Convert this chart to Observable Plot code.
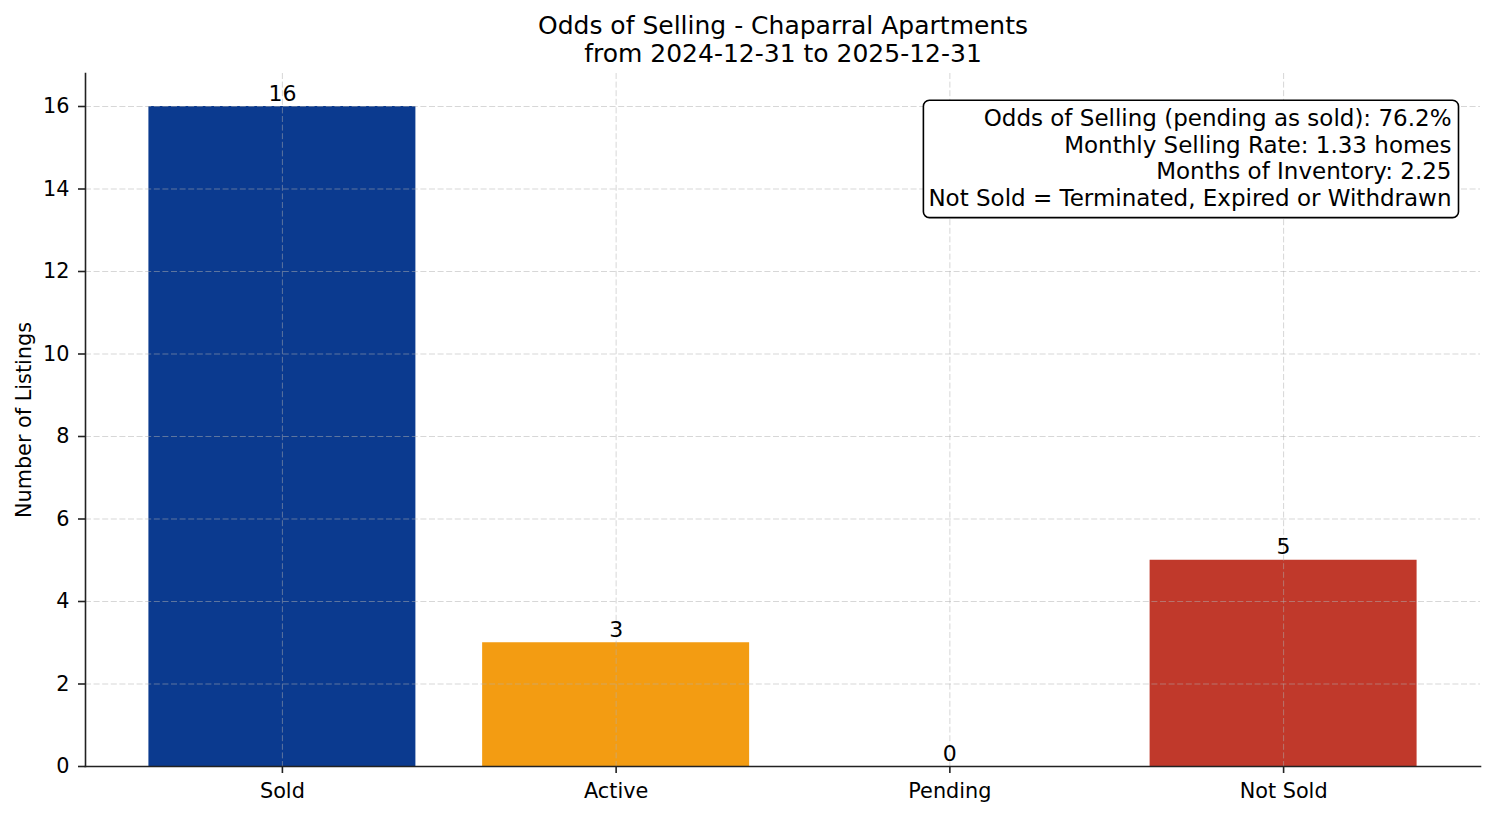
<!DOCTYPE html>
<html>
<head>
<meta charset="utf-8">
<script src="https://cdn.jsdelivr.net/npm/d3@7"></script>
<script src="https://cdn.jsdelivr.net/npm/@observablehq/plot@0.6"></script>
<style>
  html, body { margin: 0; padding: 0; background: #fff; }
  #chart { width: 1494px; height: 816px; position: relative; }
</style>
</head>
<body>
<div id="chart"></div>
<script>
const categories = ["Sold", "Active", "Pending", "Not Sold"];
const counts = [16, 3, 0, 5];
const barColors = ["#0b3a8f", "#f39c12", "#8e44ad", "#c0392b"];
const yTicks = [0, 2, 4, 6, 8, 10, 12, 14, 16];
const titleLines = ["Odds of Selling - Chaparral Apartments", "from 2024-12-31 to 2025-12-31"];
const yLabel = "Number of Listings";
const noteLines = [
  "Odds of Selling (pending as sold): 76.2%",
  "Monthly Selling Rate: 1.33 homes",
  "Months of Inventory: 2.25",
  "Not Sold = Terminated, Expired or Withdrawn"
];

const data = categories.map((c, i) => ({category: c, count: counts[i], color: barColors[i]}));
const font = "DejaVu Sans";
const gridStyle = {stroke: "#b0b0b0", strokeOpacity: 0.5, strokeWidth: 1, strokeDasharray: "6,2.6"};

const chart = Plot.plot({
  width: 1494,
  height: 816,
  marginLeft: 85,
  marginRight: 14,
  marginTop: 73,
  marginBottom: 50,
  style: {fontFamily: font, background: "#fff", color: "#000"},
  x: {type: "band", domain: categories, paddingInner: 0.2, paddingOuter: 0.19, round: false, label: null},
  y: {domain: [0, 16.8], label: null},
  color: {type: "identity"},
  marks: [
    Plot.barY(data, {x: "category", y: "count", fill: "color"}),
    Plot.ruleY(yTicks, {...gridStyle}),
    Plot.ruleX(categories, {...gridStyle}),
    Plot.axisY({ticks: yTicks, tickSize: 7, tickPadding: 9, fontSize: 20.8, stroke: "#222", strokeWidth: 1.6, fill: "#000", label: null, tickFormat: d => String(d)}),
    Plot.axisX({tickSize: 7, tickPadding: 10, fontSize: 20.8, stroke: "#222", strokeWidth: 1.6, fill: "#000", label: null}),
    Plot.frame({anchor: "left", stroke: "#222", strokeWidth: 1.6}),
    Plot.frame({anchor: "bottom", stroke: "#222", strokeWidth: 1.6}),
    Plot.text(data, {x: "category", y: "count", text: d => String(d.count), lineAnchor: "bottom", dy: -6, fontSize: 22, fill: "#000"}),
    Plot.text([titleLines[0]], {frameAnchor: "top", text: d => d, dy: -48, lineAnchor: "middle", fontSize: 25, fill: "#000"}),
    Plot.text([titleLines[1]], {frameAnchor: "top", text: d => d, dy: -20, lineAnchor: "middle", fontSize: 25, fill: "#000"}),
    Plot.text([yLabel], {frameAnchor: "left", text: d => d, rotate: -90, textAnchor: "middle", dx: -61, lineAnchor: "middle", fontSize: 20.8, fill: "#000"}),
    Plot.text([noteLines.join("\n")], {frameAnchor: "top-right", text: d => d, textAnchor: "end", lineAnchor: "top", lineHeight: 1.15, dx: -29, dy: 34, fontSize: 23, fill: "#000", className: "note"})
  ]
});

document.getElementById("chart").appendChild(chart);

// draw the rounded annotation box behind the note text
const note = chart.querySelector(".note");
if (note) {
  const sr = chart.getBoundingClientRect();
  const bb = note.getBoundingClientRect();
  const padX = 7, padY = 6;
  const rect = document.createElementNS("http://www.w3.org/2000/svg", "rect");
  rect.setAttribute("x", bb.left - sr.left - padX + 2);
  rect.setAttribute("y", bb.top - sr.top - padY + 1);
  rect.setAttribute("width", bb.width + 2 * padX - 2);
  rect.setAttribute("height", bb.height + 2 * padY);
  rect.setAttribute("rx", 6);
  rect.setAttribute("fill", "#fff");
  rect.setAttribute("stroke", "#000");
  rect.setAttribute("stroke-width", 1.6);
  note.parentNode.insertBefore(rect, note);
}
</script>
</body>
</html>
